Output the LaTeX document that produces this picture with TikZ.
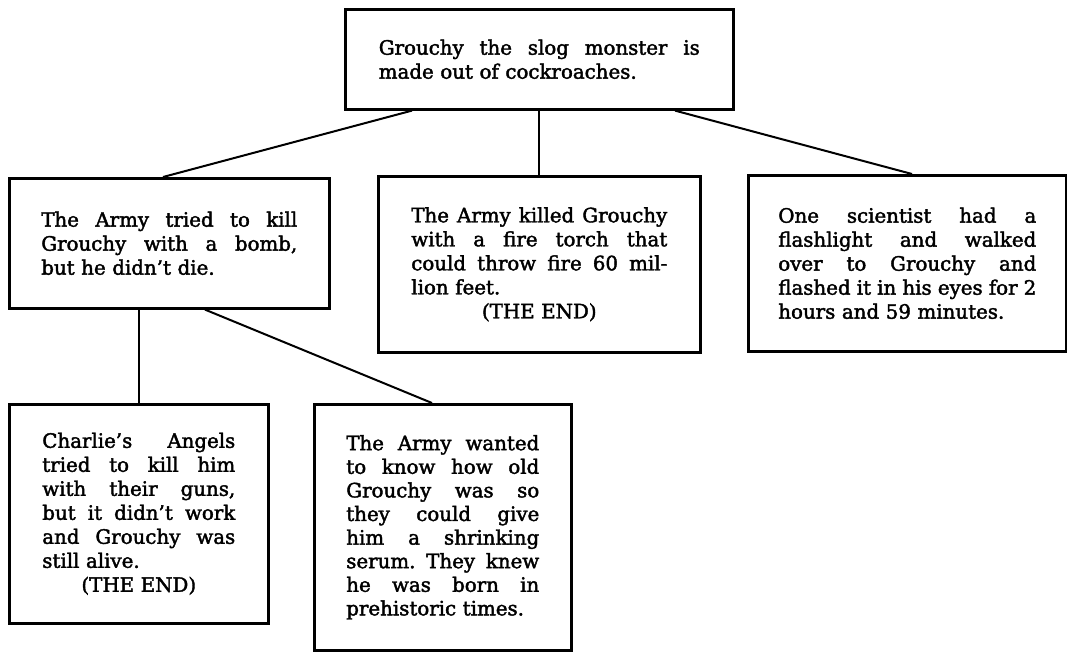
\documentclass[tikz,border=0pt]{standalone}
\usepackage{fontspec}
\setmainfont{DejaVu Serif}
\newfontfamily\boxfont{DejaVu Serif}[FakeBold=2]
\newcommand{\jl}[1]{\leavevmode\hbox to\linewidth{\spaceskip=0.3em plus 1fil\relax\xspaceskip=\spaceskip #1}}
\newcommand{\cl}[1]{\leavevmode\hbox to\linewidth{\hfil #1\hfil}}
\begin{document}
\begin{tikzpicture}[x=1pt,y=-1pt,
  box/.style={draw, line width=2.6pt, inner sep=0pt, anchor=north west, align=left,
    font=\boxfont\fontsize{19.8}{24}\selectfont},
  link/.style={line width=2pt}]
\useasboundingbox (0,0) rectangle (1067,651);
\fill[white] (0,0) rectangle (1067,651);

\node[box, minimum width=388pt, minimum height=100pt, text width=321pt] (top) at (344,8)
  {\jl{Grouchy the slog monster is}\\made out of cockroaches.};

\node[box, minimum width=320pt, minimum height=130pt, text width=256pt] (left) at (8,177)
  {\jl{The Army tried to kill}\\\jl{Grouchy with a bomb,}\\but he didn’t die.};

\node[box, minimum width=322pt, minimum height=176pt, text width=256pt] (mid) at (377,175)
  {\jl{The Army killed Grouchy}\\\jl{with a fire torch that}\\\jl{could throw fire 60 mil-}\\lion feet.\\\cl{(THE END)}};

\node[box, minimum width=318pt, minimum height=176pt, text width=258pt] (right) at (747,174)
  {\jl{One scientist had a}\\\jl{flashlight and walked}\\\jl{over to Grouchy and}\\\jl{flashed it in his eyes for 2}\\hours and 59 minutes.};

\node[box, minimum width=259pt, minimum height=219pt, text width=193pt] (bl) at (8,403)
  {\jl{Charlie’s Angels}\\\jl{tried to kill him}\\\jl{with their guns,}\\\jl{but it didn’t work}\\\jl{and Grouchy was}\\still alive.\\\cl{(THE END)}};

\node[box, minimum width=257pt, minimum height=246pt, text width=193pt,
  font=\boxfont\fontsize{19.8}{23.6}\selectfont] (bm) at (313,403)
  {\jl{The Army wanted}\\\jl{to know how old}\\\jl{Grouchy was so}\\\jl{they could give}\\\jl{him a shrinking}\\\jl{serum. They knew}\\\jl{he was born in}\\prehistoric times.};

\draw[link] ([xshift=68pt]top.south west) -- ([xshift=155pt]left.north west);
\draw[link] (mid.north) -- (mid.north |- top.south);
\draw[link] ([xshift=331pt]top.south west) -- ([xshift=165pt]right.north west);
\draw[link] (bl.north) -- (bl.north |- left.south);
\draw[link] ([xshift=197pt]left.south west) -- ([xshift=119pt]bm.north west);
\end{tikzpicture}
\end{document}
